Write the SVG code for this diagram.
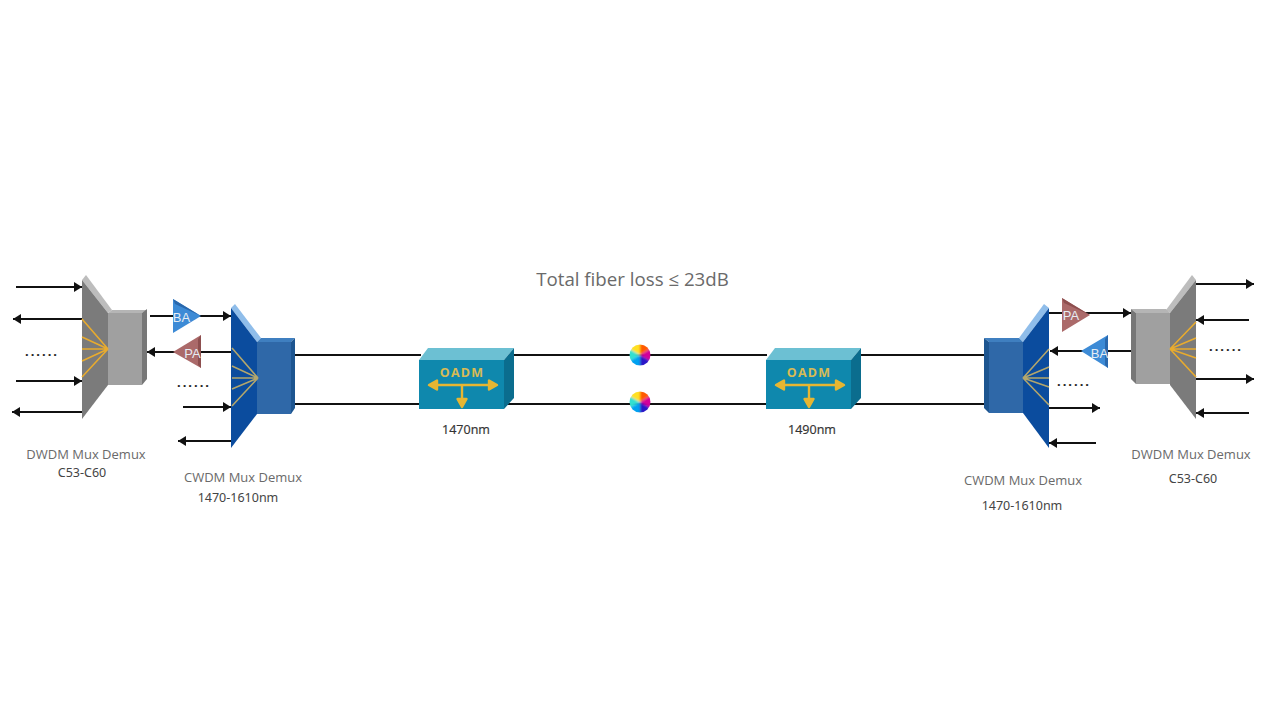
<svg xmlns="http://www.w3.org/2000/svg" width="1280" height="720" viewBox="0 0 1280 720">
<style>
.c{fill:none;stroke:#111;stroke-width:2}
.f{fill:none;stroke:#111;stroke-width:2;marker-end:url(#a)}
.y{fill:none;stroke:#e8ab2e;stroke-width:1.6}
.z{fill:none;stroke:#b3a66c;stroke-width:1.6}
.g{font:13px "Open Sans",sans-serif;fill:#6a6a6a;text-anchor:middle}
.b{font:12.5px "Noto Sans","Noto Sans CJK SC",sans-serif;fill:#444;text-anchor:middle}
.t{font:18.7px "Open Sans",sans-serif;fill:#6a6a6a;text-anchor:middle}
.n{font:12.5px "Open Sans",sans-serif;fill:#333;stroke:#333;stroke-width:.2;text-anchor:middle}
.o{font:700 12.5px "Open Sans",sans-serif;fill:#d8bb55;text-anchor:middle;letter-spacing:1.2px}
.d{font:700 13px "Noto Sans",sans-serif;fill:#222}
.w{font:13px "Liberation Sans",sans-serif;fill:#e6edf4;text-anchor:middle}
.ya{fill:#e6b632;stroke:#e6b632;stroke-width:2.4;stroke-linejoin:round}
</style>
<defs>
<marker id="a" markerUnits="userSpaceOnUse" markerWidth="9" markerHeight="11" refX="8" refY="5.500" orient="auto"><path d="M0 0.500L8 5.500L0 10.500z" fill="#111"/></marker>
<filter id="bl" x="-15%" y="-15%" width="130%" height="130%"><feGaussianBlur stdDeviation="1"/></filter>
<clipPath id="wc"><circle r="10.500"/></clipPath>
<g id="wheel">
<g clip-path="url(#wc)"><g filter="url(#bl)">
<path d="M0 0V-12A12 12 0 0 1 10.400 -6z" fill="#ff5a00"/>
<path d="M0 0L10.400 -6A12 12 0 0 1 10.400 6z" fill="#d3009a"/>
<path d="M0 0L10.400 6A12 12 0 0 1 0 12z" fill="#2a12c8"/>
<path d="M0 0V12A12 12 0 0 1 -10.400 6z" fill="#00a0f0"/>
<path d="M0 0L-10.400 6A12 12 0 0 1 -10.400 -6z" fill="#30e0d0"/>
<path d="M0 0L-10.400 -6A12 12 0 0 1 0 -12z" fill="#ffe020"/>
</g></g>
</g>
<g id="oadmShape">
<path d="M0 12L9 0H95L85 12z" fill="#6cc0d3"/>
<path d="M85 12L95 0V50L85 61z" fill="#0b6d8e"/>
<rect x="0" y="12" width="85" height="49" fill="#0f88ad"/>
<path class="ya" d="M11 37H76M43 37V50"/>
<path class="ya" d="M10 37L18 32.500V41.500zM78 37L70 32.500V41.500zM43 59L38.500 51H47.500z"/>
</g>
</defs>
<rect width="1280" height="720" fill="#fff"/>

<g id="connectors">
<path class="c" d="M295 355H421M513 355H767M860 355H985"/>
<path class="c" d="M291 404H420M504 404H767M851 404H985"/>
<path class="f" d="M16 287H82"/>
<path class="f" d="M82 319H13"/>
<path class="f" d="M16 381H82"/>
<path class="f" d="M82 412H12"/>
<path class="f" d="M150 316H231"/>
<path class="f" d="M231 352H147"/>
<path class="f" d="M183 407H231"/>
<path class="f" d="M231 441H178"/>
<path class="f" d="M1049 313H1131"/>
<path class="f" d="M1131 351H1050"/>
<path class="f" d="M1049 408H1100"/>
<path class="f" d="M1096 443H1049"/>
<path class="f" d="M1196 284H1254"/>
<path class="f" d="M1249 320H1196"/>
<path class="f" d="M1196 379H1254"/>
<path class="f" d="M1249 413H1196"/>
</g>

<g id="dwdm-left">
<path d="M82 280L86 275L112 310L108 313z" fill="#bdbdbd"/>
<path d="M108 313L112 310H147L142 313z" fill="#b5b5b5"/>
<path d="M142 313L147 309V379L142 385z" fill="#777"/>
<rect x="108" y="313" width="34" height="72" fill="#a0a0a0"/>
<path d="M82 280L108 313V385L82 419z" fill="#7b7b7b"/>
<path class="y" d="M82 319L108 349M82 337L108 349M82 349H108M82 361L108 349M82 377L108 349"/>
</g>
<g id="cwdm-left">
<path d="M231 308L235 304L261 338L257 342z" fill="#8fbdea"/>
<path d="M257 342L261 338H295L291 342z" fill="#3f7fc0"/>
<path d="M291 342L295 338V408L291 414z" fill="#1d5590"/>
<rect x="257" y="342" width="34" height="72" fill="#2f68a8"/>
<path d="M231 308L257 342V414L231 448z" fill="#0b4c9e"/>
<path class="z" d="M232 348L258 378M232 366L258 378M232 378H258M232 389L258 378M232 406L258 378"/>
</g>
<g id="ba-left">
<path d="M173 299L201 316L173 333z" fill="#3d8bd6"/>
<path d="M173 299L201 316L175 304z" fill="#2a68ad"/>
<text class="w" x="181.500" y="322">BA</text>
</g>
<g id="pa-left">
<path d="M201 335L173 352L201 368z" fill="#ab6a6a"/>
<path d="M201 335L198 339V365L201 368z" fill="#8d4f4f"/>
<text class="w" x="192.500" y="358">PA</text>
</g>
<g id="oadm-1470" transform="translate(419 348)"><use href="#oadmShape"/><text class="o" x="43" y="29">OADM</text></g>
<g id="oadm-1490" transform="translate(766 348)"><use href="#oadmShape"/><text class="o" x="43" y="29">OADM</text></g>
<g id="wheel-top" transform="translate(640 355)"><use href="#wheel"/></g>
<g id="wheel-bottom" transform="translate(640 402)"><use href="#wheel"/></g>
<g id="cwdm-right">
<path d="M1049 308L1044 304L1019 338L1023 342z" fill="#8fbdea"/>
<path d="M1023 342L1019 338H984L989 342z" fill="#3f7fc0"/>
<path d="M989 342L984 338V408L989 413z" fill="#1d5590"/>
<rect x="989" y="342" width="34" height="71" fill="#2f68a8"/>
<path d="M1049 308L1023 342V413L1049 448z" fill="#0b4c9e"/>
<path class="z" d="M1049 349L1023 378M1049 367L1023 378M1049 378H1023M1049 387L1023 378M1049 405L1023 378"/>
</g>
<g id="pa-right">
<path d="M1062 298L1090 315L1062 332z" fill="#ab6a6a"/>
<path d="M1062 298L1090 315L1064 303z" fill="#8d4f4f"/>
<text class="w" x="1071" y="320">PA</text>
</g>
<g id="ba-right">
<path d="M1108 335L1081 351L1108 368z" fill="#3d8bd6"/>
<path d="M1108 335L1105 339V365L1108 368z" fill="#2a68ad"/>
<text class="w" x="1099.500" y="358">BA</text>
</g>
<g id="dwdm-right">
<path d="M1196 280L1192 275L1166 310L1170 313z" fill="#bdbdbd"/>
<path d="M1170 313L1166 309H1131L1136 313z" fill="#b5b5b5"/>
<path d="M1136 313L1131 309V379L1136 384z" fill="#777"/>
<rect x="1136" y="313" width="34" height="71" fill="#a0a0a0"/>
<path d="M1196 280L1170 313V385L1196 419z" fill="#7b7b7b"/>
<path class="y" d="M1196 322L1170 349M1196 338L1170 349M1196 349H1170M1196 358L1170 349M1196 377L1170 349"/>
</g>

<g id="labels">
<text class="t" x="632.500" y="286">Total fiber loss ≤ 23dB</text>
<text class="g" x="86" y="459">DWDM Mux Demux</text>
<text class="b" x="82" y="477">C53-C60</text>
<text class="g" x="243" y="482">CWDM Mux Demux</text>
<text class="b" x="238" y="502">1470-1610nm</text>
<text class="n" x="466" y="434">1470nm</text>
<text class="n" x="812" y="434">1490nm</text>
<text class="g" x="1023" y="485">CWDM Mux Demux</text>
<text class="b" x="1022" y="510">1470-1610nm</text>
<text class="g" x="1191" y="459">DWDM Mux Demux</text>
<text class="b" x="1193" y="483">C53-C60</text>
<text class="d" x="25" y="356" textLength="32" lengthAdjust="spacing">......</text>
<text class="d" x="177" y="387" textLength="32" lengthAdjust="spacing">......</text>
<text class="d" x="1057" y="386" textLength="32" lengthAdjust="spacing">......</text>
<text class="d" x="1209" y="351" textLength="32" lengthAdjust="spacing">......</text>
</g>
</svg>
